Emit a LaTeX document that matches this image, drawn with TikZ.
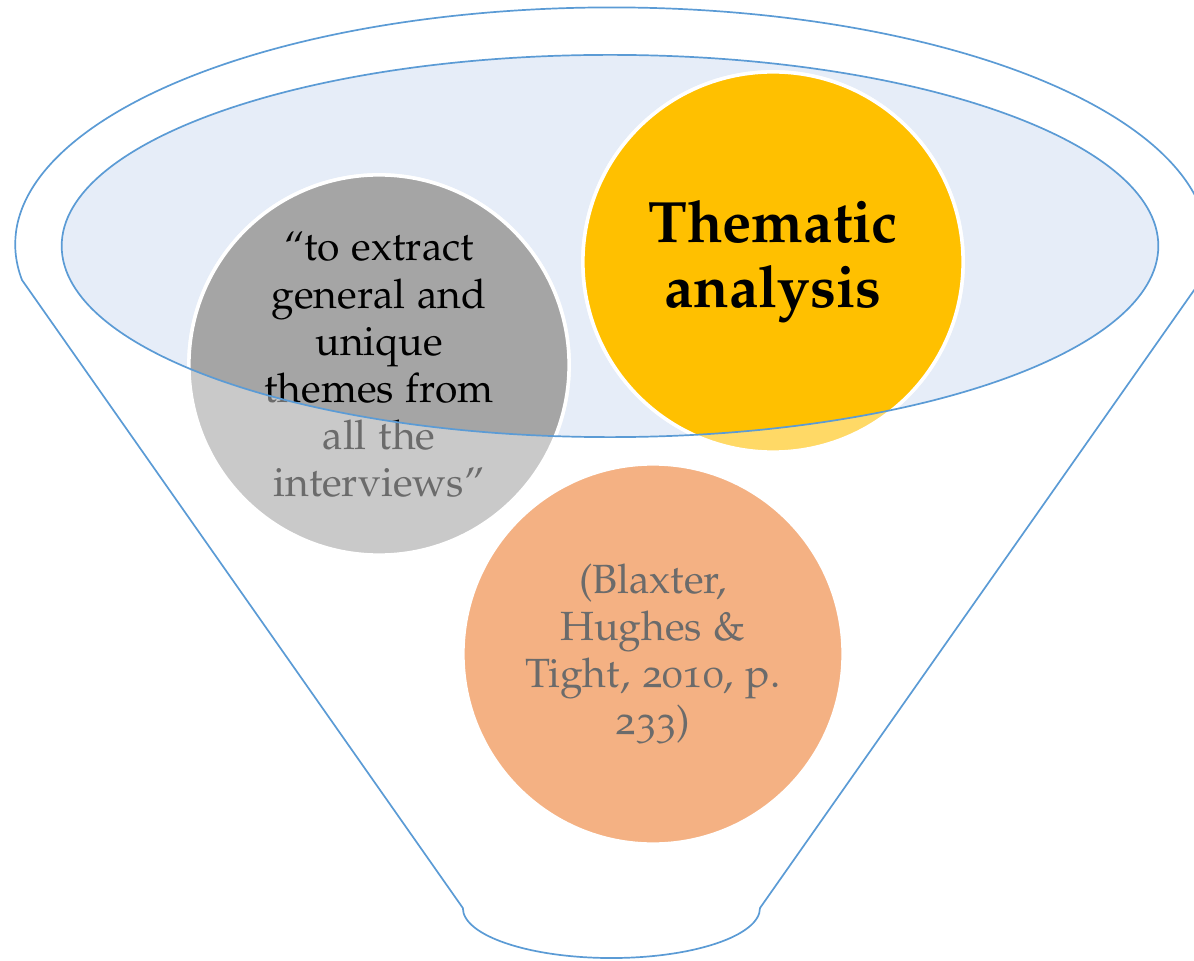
\documentclass[tikz,border=0pt]{standalone}
\usepackage[T1]{fontenc}
\usepackage[osf]{mathpazo}

\definecolor{funnelblue}{HTML}{5B9BD5}
\definecolor{funnelfill}{HTML}{E6EDF8}
\definecolor{quotedark}{HTML}{A5A5A5}
\definecolor{quotelight}{HTML}{C9C9C9}
\definecolor{themedark}{HTML}{FFC000}
\definecolor{themelight}{HTML}{FFD966}
\definecolor{sourcefill}{HTML}{F4B183}
\definecolor{softtext}{HTML}{6B6B6B}

\tikzset{
	bubble/.style={circle,draw=white,line width=0.035cm,inner sep=0,outer sep=0,minimum size=3.8cm,align=center},
	smalltext/.style={font=\fontsize{11.6}{13.4}\selectfont},
	bigtext/.style={font=\fontsize{16.6}{18.6}\selectfont\bfseries},
	rim/.style={draw=funnelblue,line width=0.017cm}
}

\newcommand{\quotelines}{``to extract\\general and\\unique\\themes from\\all the\\interviews''}
\newcommand{\themelines}{Thematic\\analysis}

\begin{document}
\begin{tikzpicture}[x=0.01cm,y=0.01cm]
	\useasboundingbox (0,0) rectangle (1194,960);
	\clip (0,0) rectangle (1194,960);
	% funnel
	\draw[rim] (22,680) arc[start angle=188.6,end angle=-8.6,x radius=5.96cm,y radius=2.37cm] -- (760,52) arc[start angle=0,end angle=-180,x radius=1.485cm,y radius=0.5cm] -- cycle;
	\fill[funnelfill] (610,714) ellipse[x radius=5.48cm,y radius=1.91cm];
	% circles
	\node[bubble,fill=quotelight,text=softtext,smalltext] (quote) at (379,595) {\quotelines};
	\node[bubble,fill=themelight,text=black,bigtext] (theme) at (773,698) {\themelines};
	\node[bubble,fill=sourcefill,text=softtext,smalltext] (source) at (653,306) {(Blaxter,\\Hughes \&\\Tight, 2010, p.\\233)};
	\begin{scope}
		\clip (610,714) ellipse[x radius=5.48cm,y radius=1.91cm];
		\node[bubble,fill=quotedark,text=black,smalltext] at (quote) {\quotelines};
		\node[bubble,fill=themedark,text=black,bigtext] at (theme) {\themelines};
	\end{scope}
	\draw[rim] (610,714) ellipse[x radius=5.48cm,y radius=1.91cm];
\end{tikzpicture}
\end{document}
